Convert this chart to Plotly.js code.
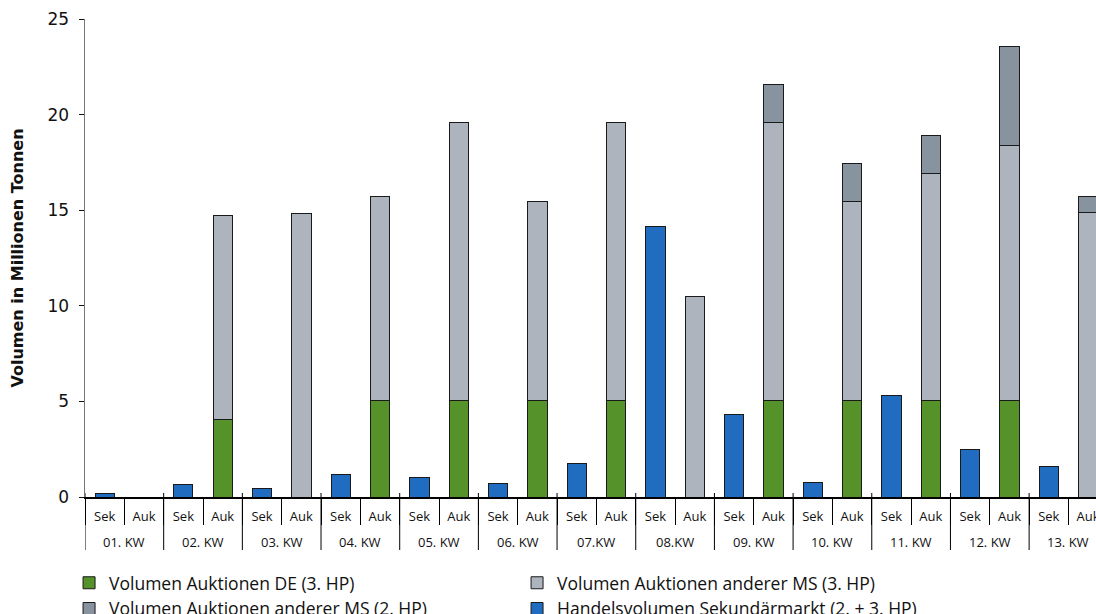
<!DOCTYPE html>
<html>
<head>
<meta charset="utf-8">
<script src="https://cdn.plot.ly/plotly-3.0.1.min.js"></script>
<style>html,body{margin:0;padding:0;background:#fff;}#chart{width:1096px;height:614px;}</style>
</head>
<body>
<div id="chart"></div>
<script>
const weeks = ["01. KW","02. KW","03. KW","04. KW","05. KW","06. KW","07.KW","08.KW","09. KW","10. KW","11. KW","12. KW","13. KW"];
const subs = ["Sek","Auk"];
// Values per week (Mio. t)
const sekundaermarkt = [0.2, 0.66, 0.45, 1.2, 1.0, 0.73, 1.73, 14.17, 4.29, 0.78, 5.33, 2.49, 1.58];
const auktionenDE3 = [null, 4.06, null, 5.04, 5.04, 5.04, 5.04, null, 5.04, 5.04, 5.04, 5.04, null];
const auktionenMS3 = [null, 10.64, 14.82, 10.67, 14.56, 10.41, 14.56, 10.5, 14.54, 10.43, 11.87, 13.37, 14.9];
const auktionenMS2 = [null, null, null, null, null, null, null, null, 1.97, 1.95, 2.01, 5.14, 0.8];

const names = ["Volumen Auktionen DE (3. HP)", "Volumen Auktionen anderer MS (3. HP)", "Volumen Auktionen anderer MS (2. HP)", "Handelsvolumen Sekundärmarkt (2. + 3. HP)"];
const colors = ["#55922a", "#adb4bd", "#8893a0", "#1f6cc0"];

// one category per (week, sub) pair
const catKeys = [], catText = [];
weeks.forEach(w => subs.forEach(s => { catKeys.push(w + "|" + s); catText.push(s); }));

function onSub(vals, sub) {
  const out = [];
  weeks.forEach((w, i) => subs.forEach(s => out.push(s === sub ? vals[i] : null)));
  return out;
}

const series = [
  [auktionenDE3, "Auk"],
  [auktionenMS3, "Auk"],
  [auktionenMS2, "Auk"],
  [sekundaermarkt, "Sek"]
];

const data = series.map((s, k) => ({
  type: "bar",
  x: catKeys,
  y: onSub(s[0], s[1]),
  name: names[k],
  marker: {color: colors[k], line: {color: "#1a1a1a", width: 1}},
  hoverinfo: "y+name"
}));

// week group labels and dividers (positioned by category index)
const annotations = weeks.map((w, i) => ({
  text: w, xref: "x", x: subs.length * i + (subs.length - 1) / 2,
  yref: "paper", y: 0, yanchor: "middle", yshift: -45, showarrow: false,
  font: {size: 13, family: "Open Sans, sans-serif", color: "#111"}
}));
const shapes = weeks.map((w, i) => ({
  type: "line", xref: "x", x0: subs.length * i - 0.5, x1: subs.length * i - 0.5,
  yref: "paper", ysizemode: "pixel", yanchor: 0, y0: 4, y1: -53,
  line: {color: "#000", width: 1}
}));

const layout = {
  width: 1096, height: 614,
  margin: {l: 85, r: 0, t: 19, b: 117},
  barmode: "stack",
  bargap: 0.51,
  paper_bgcolor: "#fff",
  plot_bgcolor: "#fff",
  font: {family: "Open Sans, sans-serif", color: "#111"},
  xaxis: {
    type: "category",
    categoryorder: "array", categoryarray: catKeys,
    tickvals: catKeys, ticktext: catText,
    range: [-0.5, 25.2],
    showgrid: false,
    showline: true, linecolor: "#000", linewidth: 1.5,
    ticks: "outside", tickson: "boundaries", ticklen: 26, tickcolor: "#000", tickwidth: 1,
    ticklabelstandoff: 7,
    tickfont: {size: 13, family: "Open Sans, sans-serif", color: "#111"}
  },
  yaxis: {
    range: [0, 25], dtick: 5, tick0: 0,
    showgrid: false, zeroline: false,
    showline: true, linecolor: "#777", linewidth: 1.5,
    ticks: "outside", ticklen: 5, tickcolor: "#111",
    ticklabelstandoff: 6,
    tickfont: {size: 17, family: "DejaVu Sans, sans-serif", color: "#111"},
    title: {text: "<b>Volumen in Millionen Tonnen</b>", font: {size: 16, family: "DejaVu Sans, sans-serif", color: "#111"}, standoff: 20}
  },
  annotations: annotations,
  shapes: shapes,
  legend: {
    orientation: "h",
    xref: "container", x: 0.063, xanchor: "left",
    yref: "container", y: 0.08, yanchor: "top",
    entrywidth: 403, entrywidthmode: "pixels",
    font: {size: 17.5, family: "Open Sans, sans-serif", color: "#111"},
    traceorder: "normal", tracegroupgap: 0, itemclick: false
  },
  showlegend: true
};

Plotly.newPlot("chart", data, layout, {displayModeBar: false, staticPlot: true});
</script>
</body>
</html>
